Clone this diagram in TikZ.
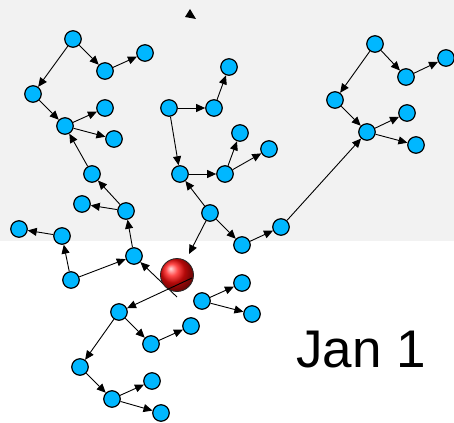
\documentclass[tikz,border=0pt]{standalone}
\usepackage{fontspec}
\setmainfont{Liberation Sans}
\usetikzlibrary{arrows.meta}
\definecolor{nodeblue}{RGB}{0,183,255}
\definecolor{bggray}{RGB}{242,242,242}
\begin{document}
\begin{tikzpicture}[x=1pt,y=-1pt,
  bn/.style={circle,draw=black,line width=1.2pt,fill=nodeblue,minimum size=16.5pt,inner sep=0pt},
  ed/.style={line width=0.9pt,-{Triangle[length=9pt,width=8pt]}}]
\useasboundingbox (0,0) rectangle (454,422);
\fill[white] (0,0) rectangle (454,422);
\fill[bggray] (0,0) rectangle (454,241);
% top triangle
\fill[black] (190,9) -- (196,19) -- (185,17) -- cycle;
% nodes
\node[bn] (a1) at (73,39) {};
\node[bn] (a2) at (105,71) {};
\node[bn] (a3) at (145,53) {};
\node[bn] (a4) at (33,94) {};
\node[bn] (a5) at (65,126) {};
\node[bn] (a6) at (105,108) {};
\node[bn] (a7) at (114,139) {};
\node[bn] (a8) at (92,174) {};
\node[bn] (a9) at (82,204) {};
\node[bn] (a10) at (126,211) {};
\node[bn] (d1) at (19,229) {};
\node[bn] (d2) at (62,236) {};
\node[bn] (d3) at (71,280) {};
\node[bn] (d4) at (134,256) {};
\node[bn] (b1) at (169,108) {};
\node[bn] (b2) at (214,108) {};
\node[bn] (b3) at (229,67) {};
\node[bn] (b4) at (180,174) {};
\node[bn] (b5) at (225,174) {};
\node[bn] (b6) at (210,213) {};
\node[bn] (b7) at (240,133) {};
\node[bn] (b8) at (269,149) {};
\node[bn] (b9) at (242,245) {};
\node[bn] (b10) at (281,227) {};
\node[bn] (c1) at (375,44) {};
\node[bn] (c2) at (406,77) {};
\node[bn] (c3) at (446,58) {};
\node[bn] (c4) at (335,100) {};
\node[bn] (c5) at (367,132) {};
\node[bn] (c6) at (407,113) {};
\node[bn] (c7) at (416,145) {};
\node[bn] (e1) at (119,312) {};
\node[bn] (e2) at (151,344) {};
\node[bn] (e3) at (191,326) {};
\node[bn] (e4) at (80,367) {};
\node[bn] (e5) at (112,399) {};
\node[bn] (e6) at (152,381) {};
\node[bn] (e7) at (161,413) {};
\node[bn] (f1) at (202,301) {};
\node[bn] (f2) at (242,283) {};
\node[bn] (f3) at (252,314) {};
\coordinate (rs1) at (177,297);
\coordinate (rs2) at (192,278);
\coordinate (rt) at (189,254);
% edge under ball
\draw[ed] (rs1) -- (d4);
% ball
\node[circle,minimum size=33pt,inner sep=0pt,ball color=red!95!white,draw=black!85,line width=0.8pt] (red) at (177,275) {};
% edges
\draw[ed] (rs2) -- (e1);
\draw[ed] (a1) -- (a2);
\draw[ed] (a2) -- (a3);
\draw[ed] (a1) -- (a4);
\draw[ed] (a4) -- (a5);
\draw[ed] (a5) -- (a6);
\draw[ed] (a5) -- (a7);
\draw[ed] (a8) -- (a5);
\draw[ed] (a10) -- (a8);
\draw[ed] (a10) -- (a9);
\draw[ed] (d2) -- (d1);
\draw[ed] (d3) -- (d2);
\draw[ed] (d3) -- (d4);
\draw[ed] (d4) -- (a10);
\draw[ed] (b1) -- (b2);
\draw[ed] (b2) -- (b3);
\draw[ed] (b1) -- (b4);
\draw[ed] (b4) -- (b5);
\draw[ed] (b5) -- (b7);
\draw[ed] (b5) -- (b8);
\draw[ed] (b6) -- (b4);
\draw[ed] (b6) -- (b9);
\draw[ed] (b9) -- (b10);
\draw[ed] (b10) -- (c5);
\draw[ed] (b6) -- (rt);
\draw[ed] (c1) -- (c2);
\draw[ed] (c2) -- (c3);
\draw[ed] (c1) -- (c4);
\draw[ed] (c4) -- (c5);
\draw[ed] (c5) -- (c6);
\draw[ed] (c5) -- (c7);
\draw[ed] (e1) -- (e2);
\draw[ed] (e2) -- (e3);
\draw[ed] (e1) -- (e4);
\draw[ed] (e4) -- (e5);
\draw[ed] (e5) -- (e6);
\draw[ed] (e5) -- (e7);
\draw[ed] (f1) -- (f2);
\draw[ed] (f1) -- (f3);
% label
\node[font=\fontsize{53pt}{60pt}\selectfont,inner sep=0pt,anchor=base] (lbl) at (361,367) {Jan 1};
\end{tikzpicture}
\end{document}
